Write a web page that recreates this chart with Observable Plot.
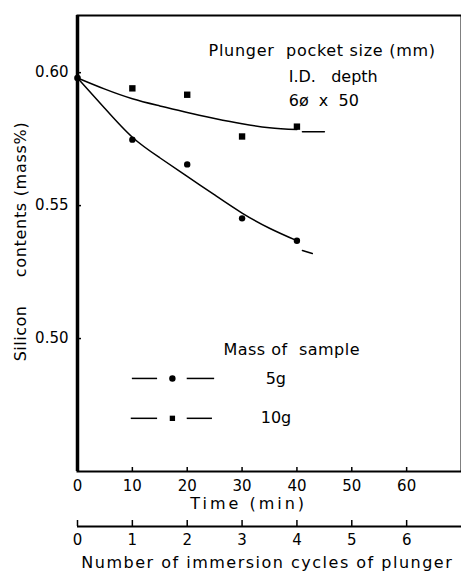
<!DOCTYPE html>
<html><head><meta charset="utf-8">
<script src="https://cdn.jsdelivr.net/npm/d3@7"></script>
<script src="https://cdn.jsdelivr.net/npm/@observablehq/plot@0.6"></script>
<style>
body{margin:0;background:#fff}
svg{font-family:"DejaVu Sans",sans-serif}
</style>
</head><body><div id="chart"></div>
<script>
// measured points
const pointTimes = [10, 20, 30, 40];
const si5g = [0.5748, 0.5655, 0.5452, 0.5368];
const si10g = [0.5941, 0.5917, 0.5760, 0.5797];
const initialTime = [0];
const initialSi = [0.598];
// drawn fitted curves
const fitTimes = [0, 5, 10, 15, 20, 25, 30, 35, 40];
const fit5g = [0.598, 0.5865, 0.5757, 0.5680, 0.5610, 0.5540, 0.5472, 0.5415, 0.5368];
const fit10g = [0.598, 0.5938, 0.5902, 0.5875, 0.5850, 0.5828, 0.5808, 0.5793, 0.5786];
// dashed extrapolations
const ext5gTimes = [41, 42.8];
const ext5g = [0.5331, 0.5320];
const ext10gTimes = [41, 45];
const ext10g = [0.5778, 0.5778];
// ticks
const timeTicks = [0, 10, 20, 30, 40, 50, 60];
const cycleTicks = [0, 1, 2, 3, 4, 5, 6];
const minutesPerCycle = 10;
const siTicks = [0.50, 0.55, 0.60];

const fs = 16;
const plot = Plot.plot({
  width: 461, height: 572,
  marginLeft: 77, marginTop: 15, marginRight: 0, marginBottom: 101,
  x: {domain: [0, 70], axis: null},
  y: {domain: [0.45, 0.6215], axis: null},
  style: {fontFamily: '"DejaVu Sans", sans-serif', fontSize: "16px", color: "#000", background: "#fff"},
  marks: [
    Plot.frame({stroke: "#000", strokeWidth: 2}),
    Plot.ruleX([0], {stroke: "#000", strokeWidth: 3.5}),
    Plot.axisY(siTicks, {tickSize: -4, tickPadding: 13, tickFormat: d3.format(".2f"), fontSize: 15, label: null, strokeWidth: 1.5}),
    Plot.axisX(timeTicks, {anchor: "bottom", tickSize: -4, tickPadding: 13, fontSize: 15, label: null, strokeWidth: 1.5}),
    // second axis: immersion cycles
    Plot.ruleY([0.45], {dy: 55, stroke: "#000", strokeWidth: 2}),
    Plot.axisX(cycleTicks.map(c => c * minutesPerCycle), {anchor: "bottom", dy: 55, tickSize: -6, tickPadding: 14, tickFormat: d => d / minutesPerCycle, fontSize: 15, label: null, strokeWidth: 1.5}),
    // curves
    Plot.line(fit5g, {x: fitTimes, y: fit5g, curve: "natural", stroke: "#000", strokeWidth: 1.5}),
    Plot.line(fit10g, {x: fitTimes, y: fit10g, curve: "natural", stroke: "#000", strokeWidth: 1.5}),
    Plot.line(ext5g, {x: ext5gTimes, y: ext5g, stroke: "#000", strokeWidth: 1.5}),
    Plot.line(ext10g, {x: ext10gTimes, y: ext10g, stroke: "#000", strokeWidth: 1.5}),
    // points
    Plot.dot(initialSi, {x: initialTime, y: initialSi, r: 3.3, fill: "#000", symbol: "circle"}),
    Plot.dot(si5g, {x: pointTimes, y: si5g, r: 3.2, fill: "#000", symbol: "circle"}),
    Plot.dot(si10g, {x: pointTimes, y: si10g, r: 3.6, fill: "#000", symbol: "square"}),
    // annotations
    Plot.text(["Plunger  pocket size (mm)"], {x: 23.9, y: 0.6083, textAnchor: "start", fontSize: fs}),
    Plot.text(["I.D.   depth"], {x: 38.5, y: 0.5985, textAnchor: "start", fontSize: fs}),
    Plot.text(["6ø  x  50"], {x: 38.5, y: 0.5895, textAnchor: "start", fontSize: fs}),
    Plot.text(["Mass of  sample"], {x: 26.6, y: 0.4959, textAnchor: "start", fontSize: fs}),
    Plot.ruleY([0.485], {x1: 10, x2: 14.6, stroke: "#000", strokeWidth: 1.5}),
    Plot.ruleY([0.485], {x1: 20, x2: 25, stroke: "#000", strokeWidth: 1.5}),
    Plot.dot([0], {x: 17.3, y: 0.485, r: 3.2, fill: "#000", symbol: "circle"}),
    Plot.text(["5g"], {x: 34.3, y: 0.485, textAnchor: "start", fontSize: fs}),
    Plot.ruleY([0.470], {x1: 9.8, x2: 14.6, stroke: "#000", strokeWidth: 1.5}),
    Plot.ruleY([0.470], {x1: 20, x2: 24.6, stroke: "#000", strokeWidth: 1.5}),
    Plot.dot([0], {x: 17.3, y: 0.470, r: 3.0, fill: "#000", symbol: "square"}),
    Plot.text(["10g"], {x: 33.4, y: 0.470, textAnchor: "start", fontSize: fs}),
    // axis titles
    Plot.text(["Time (min)"], {x: 31.2, frameAnchor: "bottom", lineAnchor: "middle", dy: 32, fontSize: fs}),
    Plot.text(["Number of immersion cycles of plunger"], {x: 34.6, frameAnchor: "bottom", lineAnchor: "middle", dy: 91, fontSize: fs}),
    Plot.text(["Silicon"], {frameAnchor: "left", textAnchor: "middle", lineAnchor: "middle", dx: -57, y: 0.5019, rotate: -90, fontSize: fs}),
    Plot.text(["contents (mass%)"], {frameAnchor: "left", textAnchor: "middle", lineAnchor: "middle", dx: -57, y: 0.5523, rotate: -90, fontSize: fs})
  ]
});
const spacing = {
  "Plunger  pocket size (mm)": "0.7px",
  "Mass of  sample": "0.5px",
  "Time (min)": "3px",
  "Number of immersion cycles of plunger": "1.5px",
  "contents (mass%)": "0.7px",
  "Silicon": "0.5px"
};
d3.select(plot).selectAll("text").each(function() {
  this.style.whiteSpace = "pre";
  const s = spacing[this.textContent];
  if (s) this.style.letterSpacing = s;
});
document.getElementById("chart").appendChild(plot);
</script>
</body></html>
